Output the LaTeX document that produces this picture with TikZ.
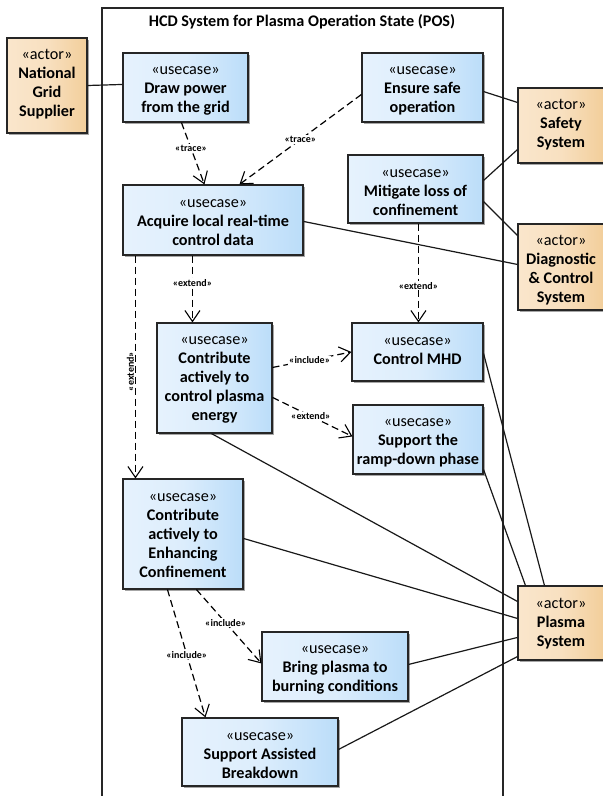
\documentclass[tikz,border=0pt]{standalone}
\usepackage{fontspec}
\setmainfont{Carlito}
\usetikzlibrary{arrows.meta,shadows}
\tikzset{
  boxbase/.style={draw=black!85,line width=1.1pt,align=center,inner sep=0pt,font=\fontsize{16.2}{19}\selectfont,
    drop shadow={shadow xshift=2pt,shadow yshift=-2pt,fill=black,opacity=.35}},
  uc/.style={boxbase,left color=ucL,right color=ucR,middle color=ucM},
  actorbox/.style={boxbase,left color=acL,right color=acR,middle color=acM},
  assoc/.style={line width=1.2pt,draw=black!90},
  dep/.style={line width=1.2pt,draw=black,dash pattern=on 7pt off 4pt,-{Straight Barb[length=11pt,width=15pt,line width=1.1pt]}},
  deplabel/.style={fill=white,inner sep=1pt,font=\fontsize{10}{11}\selectfont\bfseries}
}
\definecolor{ucL}{HTML}{E6F2FD}\definecolor{ucM}{HTML}{DCEDFC}\definecolor{ucR}{HTML}{BBDDF9}
\definecolor{acL}{HTML}{FAE6CC}\definecolor{acM}{HTML}{F8E0C0}\definecolor{acR}{HTML}{F2CE9A}
\newcommand{\su}[1][14pt]{\rule{0pt}{#1}«usecase»\\}
\newcommand{\ac}[1][14pt]{\rule{0pt}{#1}«actor»\\}
\newcommand{\dn}[1]{\rule[-#1]{0pt}{0pt}}
\begin{document}
\begin{tikzpicture}[x=1pt,y=-1pt]
\useasboundingbox (0,0) rectangle (603,796);
\fill[white] (0,0) rectangle (603,796);
\node[draw=black!85,line width=1.2pt,minimum width=401pt,minimum height=800pt,inner sep=0pt] (sys) at (302.5,408) {};
\node[font=\fontsize{16.2}{19}\selectfont\bfseries] (title) at (302,22) {HCD System for Plasma Operation State (POS)};

\node[actorbox,minimum width=80pt,minimum height=95pt] (nat) at (47,85.5) {\ac[0pt]\textbf{National}\\\textbf{Grid}\\\textbf{Supplier}\dn{6pt}};
\node[actorbox,minimum width=86pt,minimum height=75pt] (saf) at (561,125.5) {\ac[0pt]\textbf{Safety}\\\textbf{System}\dn{5pt}};
\node[actorbox,minimum width=86pt,minimum height=86pt] (dia) at (561,267) {\ac[16pt]\textbf{Diagnostic}\\\textbf{\& Control}\\\textbf{System}};
\node[actorbox,minimum width=86pt,minimum height=74pt] (pla) at (561,623) {\ac[12pt]\textbf{Plasma}\\\textbf{System}};

\node[uc,minimum width=125pt,minimum height=69pt] (draw) at (185.5,87.5) {\su\textbf{Draw power}\\\textbf{from the grid}};
\node[uc,minimum width=121pt,minimum height=69pt] (ens) at (422.5,87.5) {\su\textbf{Ensure safe}\\\textbf{operation}};
\node[uc,minimum width=180pt,minimum height=70pt] (acq) at (213,220) {\su\textbf{Acquire local real-time}\\\textbf{control data}};
\node[uc,minimum width=135pt,minimum height=68pt] (mit) at (415.5,189) {\su[16pt]\textbf{Mitigate loss of}\\\textbf{confinement}};
\node[uc,minimum width=115pt,minimum height=110pt] (ene) at (214.5,378) {\su[12pt]\textbf{Contribute}\\\textbf{actively to}\\\textbf{control plasma}\\\textbf{energy}};
\node[uc,minimum width=131pt,minimum height=58pt] (mhd) at (417.5,352) {\su[0pt]\textbf{Control MHD}\dn{1pt}};
\node[uc,minimum width=130pt,minimum height=69pt] (ram) at (418,439.5) {\su\textbf{Support the}\\\textbf{ramp-down phase}};
\node[uc,minimum width=120pt,minimum height=110pt] (enh) at (183,534) {\su[12pt]\textbf{Contribute}\\\textbf{actively to}\\\textbf{Enhancing}\\\textbf{Confinement}};
\node[uc,minimum width=146pt,minimum height=69pt] (bri) at (335,666.5) {\su\textbf{Bring plasma to}\\\textbf{burning conditions}};
\node[uc,minimum width=156pt,minimum height=68pt] (ass) at (260,752) {\su[15pt]\textbf{Support Assisted}\\\textbf{Breakdown}};

% associations
\draw[assoc] (nat.east) -- ([yshift=-32pt]draw.north west);
\draw[assoc] ([yshift=31pt]ens.south east) -- ([yshift=-15pt]saf.north west);
\draw[assoc] ([yshift=-26pt]mit.north east) -- ([yshift=14pt]saf.south west);
\draw[assoc] ([yshift=-47pt]mit.north east) -- ([yshift=-12pt]dia.north west);
\draw[assoc] ([yshift=-37pt]acq.north east) -- ([yshift=-41pt]dia.north west);
\draw[assoc] ([xshift=55pt]ene.south west) -- ([yshift=-16pt]pla.north west);
\draw[assoc] ([yshift=-60pt]enh.north east) -- ([yshift=-33pt]pla.north west);
\draw[assoc] ([yshift=-31pt]mhd.north east) -- ([xshift=27pt]pla.north west);
\draw[assoc] ([yshift=5pt]ram.south east) -- ([xshift=8pt]pla.north west);
\draw[assoc] ([yshift=-33pt]bri.north east) -- ([yshift=-52pt]pla.north west);
\draw[assoc] ([yshift=-32pt]ass.north east) -- ([yshift=4pt]pla.south west);

% dependencies
\draw[dep] ([xshift=59pt]draw.south west) -- node[deplabel,pos=.42] (l1) {«trace»} ([xshift=82pt]acq.north west);
\draw[dep] ([yshift=-42pt]ens.north west) -- node[deplabel,pos=.5] (l2) {«trace»} ([xshift=117pt]acq.north west);
\draw[dep] ([xshift=71pt]mit.south west) -- node[deplabel,pos=.63] (l3) {«extend»} ([xshift=67pt]mhd.north west);
\draw[dep] ([xshift=70pt]acq.south west) -- node[deplabel,pos=.41] (l4) {«extend»} ([xshift=36pt]ene.north west);
\draw[dep] ([xshift=13pt]acq.south west) -- node[deplabel,pos=.52,rotate=90,yshift=5pt,fill=none] (l5) {«extend»} ([xshift=13pt]enh.north west);
\draw[dep] ([yshift=-45pt]ene.north east) -- node[deplabel,pos=.47] (l6) {«include»} (mhd.west);
\draw[dep] ([yshift=-75pt]ene.north east) -- node[deplabel,pos=.48] (l7) {«extend»} ([yshift=-32pt]ram.north west);
\draw[dep] ([xshift=45pt]enh.south west) -- node[deplabel,pos=.51] (l8) {«include»} ([xshift=24pt]ass.north west);
\draw[dep] ([xshift=74pt]enh.south west) -- node[deplabel,pos=.45] (l9) {«include»} ([yshift=-32pt]bri.north west);
\end{tikzpicture}
\end{document}
